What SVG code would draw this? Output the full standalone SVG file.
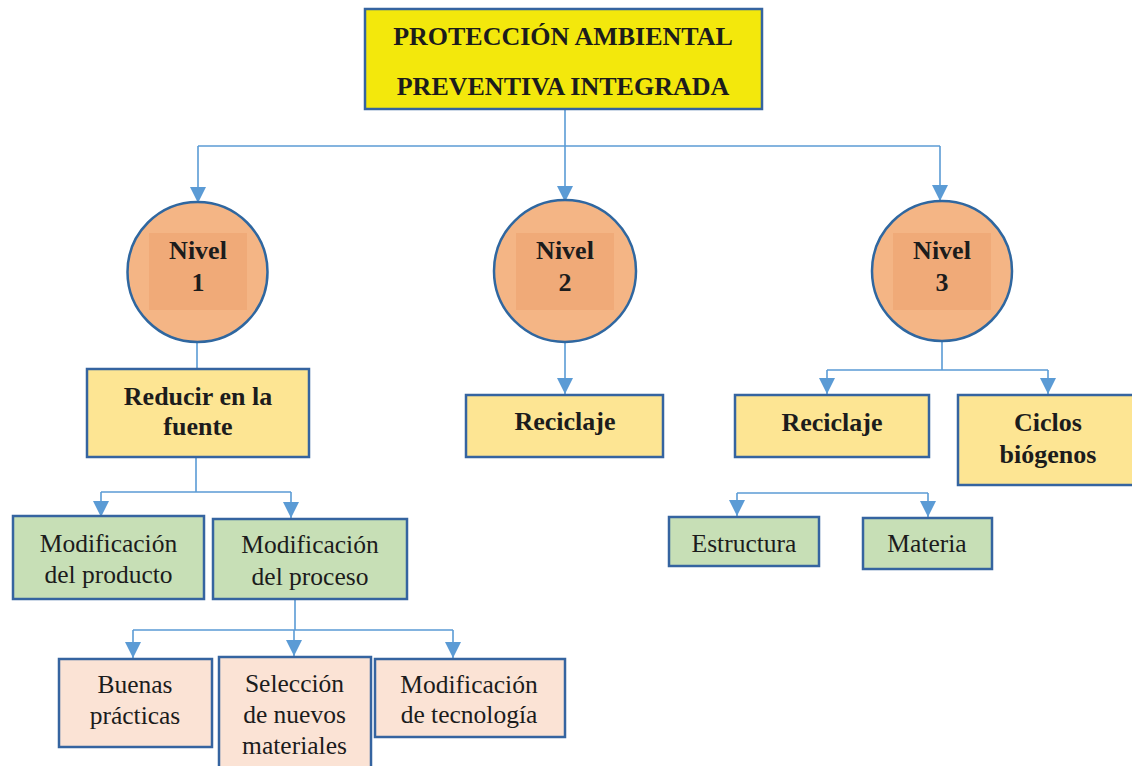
<svg xmlns="http://www.w3.org/2000/svg" width="1132" height="766" viewBox="0 0 1132 766">
  <defs>
    <marker id="arrow" markerUnits="userSpaceOnUse" markerWidth="16" markerHeight="16" viewBox="0 0 10 10" refX="10" refY="5" orient="auto">
      <path d="M0,0 L10,5 L0,10 z" fill="#5b9bd5"/>
    </marker>
    <style>
      .box { stroke: #3564a0; stroke-width: 2.5; }
      .title { fill: #f3e80c; }
      .yellow { fill: #fde593; }
      .green { fill: #c7dfb6; }
      .pink { fill: #fbe3d5; }
      .circle { fill: #f4b585; stroke: #2f67a0; stroke-width: 2.5; }
      .core { fill: #f0aa78; }
      .link { fill: none; stroke: #5b9bd5; stroke-width: 1.6; }
      .arr { marker-end: url(#arrow); }
      text { font-family: "Liberation Serif", "Times New Roman", serif; fill: #1c1c1c; text-anchor: middle; }
      .b { font-weight: bold; font-size: 26px; }
      .t { font-weight: bold; font-size: 26px; }
      .r { font-size: 25.5px; }
    </style>
  </defs>

  <!-- connectors -->
  <g id="connectors">
    <path class="link" d="M198,146 H940"/>
    <path class="link arr" d="M198,146 V203"/>
    <path class="link arr" d="M565,109 V202"/>
    <path class="link arr" d="M940,146 V201"/>

    <path class="link" d="M197,341 V369"/>
    <path class="link" d="M196,457 V492 M101,492 H291"/>
    <path class="link arr" d="M101,492 V517"/>
    <path class="link arr" d="M291,492 V518"/>

    <path class="link" d="M295,599 V630 M133,630 H453"/>
    <path class="link arr" d="M133,630 V658"/>
    <path class="link arr" d="M294,630 V656"/>
    <path class="link arr" d="M453,630 V658"/>

    <path class="link arr" d="M565,341 V394"/>

    <path class="link" d="M942,341 V370 M827,370 H1048"/>
    <path class="link arr" d="M827,370 V394"/>
    <path class="link arr" d="M1048,370 V394"/>

    <path class="link" d="M737,493 H928"/>
    <path class="link arr" d="M737,493 V516"/>
    <path class="link arr" d="M928,493 V517"/>
  </g>

  <!-- root -->
  <g id="root">
    <rect class="box title" x="365" y="9" width="397" height="100"/>
    <text class="t" x="563" y="45">PROTECCIÓN AMBIENTAL</text>
    <text class="t" x="563" y="95">PREVENTIVA INTEGRADA</text>
  </g>

  <!-- levels -->
  <g id="nivel1">
    <circle class="circle" cx="197.5" cy="272" r="70"/>
    <rect class="core" x="149" y="233" width="98" height="77"/>
    <text class="b" x="198" y="259">Nivel</text>
    <text class="b" x="198" y="291">1</text>
  </g>
  <g id="nivel2">
    <circle class="circle" cx="565" cy="271" r="71"/>
    <rect class="core" x="516" y="233" width="98" height="77"/>
    <text class="b" x="565" y="259">Nivel</text>
    <text class="b" x="565" y="291">2</text>
  </g>
  <g id="nivel3">
    <circle class="circle" cx="942" cy="271" r="70"/>
    <rect class="core" x="893" y="233" width="98" height="77"/>
    <text class="b" x="942" y="259">Nivel</text>
    <text class="b" x="942" y="291">3</text>
  </g>

  <!-- level 1 branch -->
  <g id="reducir">
    <rect class="box yellow" x="87" y="369" width="222" height="88"/>
    <text class="b" x="198" y="405">Reducir en la</text>
    <text class="b" x="198" y="435">fuente</text>
  </g>
  <g id="mod-producto">
    <rect class="box green" x="13" y="516" width="191" height="83"/>
    <text class="r" x="108.5" y="552">Modificación</text>
    <text class="r" x="108.5" y="583">del producto</text>
  </g>
  <g id="mod-proceso">
    <rect class="box green" x="213" y="519" width="194" height="80"/>
    <text class="r" x="310" y="553">Modificación</text>
    <text class="r" x="310" y="585">del proceso</text>
  </g>
  <g id="buenas">
    <rect class="box pink" x="59" y="659" width="153" height="88"/>
    <text class="r" x="135" y="693">Buenas</text>
    <text class="r" x="135" y="724">prácticas</text>
  </g>
  <g id="seleccion">
    <rect class="box pink" x="219" y="657" width="152" height="112"/>
    <text class="r" x="294.5" y="692">Selección</text>
    <text class="r" x="294.5" y="723">de nuevos</text>
    <text class="r" x="294.5" y="754">materiales</text>
  </g>
  <g id="tecnologia">
    <rect class="box pink" x="375" y="659" width="190" height="78"/>
    <text class="r" x="469" y="693">Modificación</text>
    <text class="r" x="469" y="723">de tecnología</text>
  </g>

  <!-- level 2 branch -->
  <g id="reciclaje2">
    <rect class="box yellow" x="466" y="395" width="197" height="62"/>
    <text class="b" x="565" y="430">Reciclaje</text>
  </g>

  <!-- level 3 branch -->
  <g id="reciclaje3">
    <rect class="box yellow" x="735" y="395" width="194" height="62"/>
    <text class="b" x="832" y="431">Reciclaje</text>
  </g>
  <g id="ciclos">
    <rect class="box yellow" x="958" y="395" width="180" height="90"/>
    <text class="b" x="1048" y="431">Ciclos</text>
    <text class="b" x="1048" y="463">biógenos</text>
  </g>
  <g id="estructura">
    <rect class="box green" x="669" y="517" width="150" height="49"/>
    <text class="r" x="744" y="552">Estructura</text>
  </g>
  <g id="materia">
    <rect class="box green" x="863" y="518" width="129" height="51"/>
    <text class="r" x="927" y="552">Materia</text>
  </g>
</svg>
